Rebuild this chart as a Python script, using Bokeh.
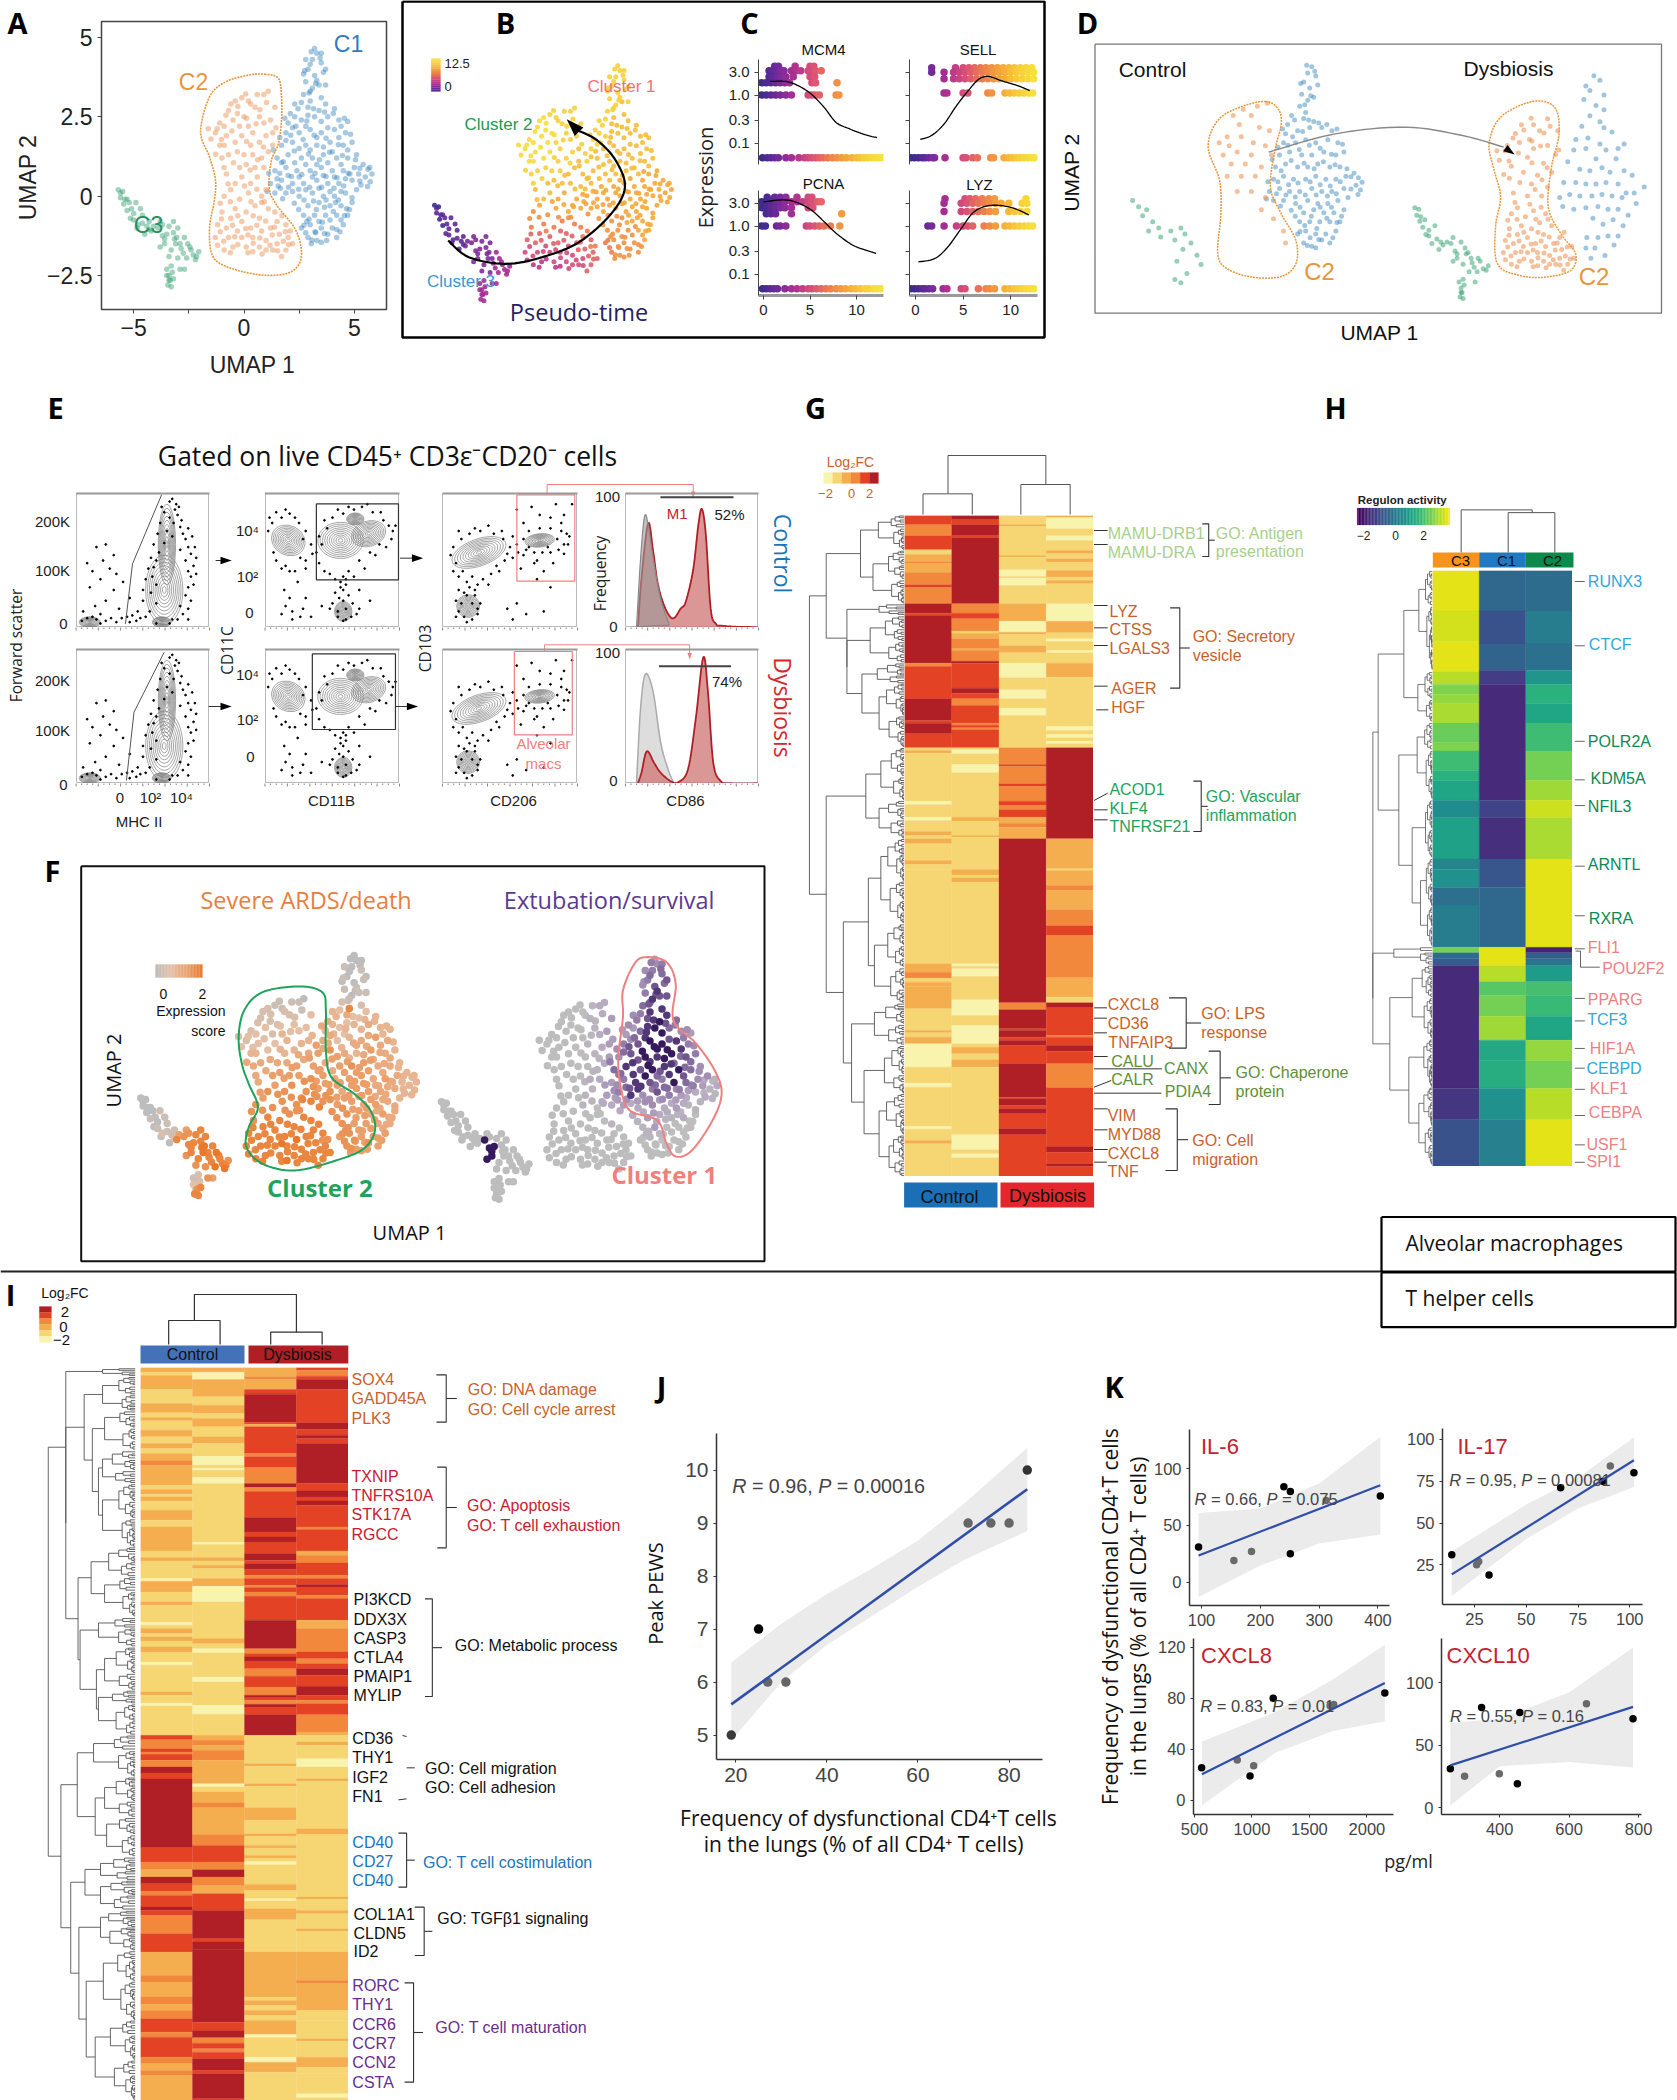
import math
import numpy as np
from bokeh.plotting import figure
from bokeh.models import Range1d, FixedTicker, LinearColorMapper, ColumnDataSource, PrintfTickFormatter
from bokeh.core.properties import value
from bokeh.transform import transform
from bokeh.palettes import Viridis256
from bokeh.embed import file_html
from bokeh.resources import INLINE

LS, OS = "Liberation Sans", "Open Sans"

# ---------- shared UMAP embedding: (x, y, pseudotime, severe score, survival score)
C1_CTRL = [(3.3,4.5,11,0,4),(3.1,4.3,11,0,5),(3.5,4.2,11,1,6),(2.9,4.0,11,0,5),(3.2,3.8,11,0,7),(3.6,3.9,11,1,6),(2.8,3.6,11,1,5),(3.1,3.4,11,0,8),(3.4,3.5,10,1,7),(2.7,3.2,11,2,6),(3.0,3.0,10,8,8),
(2.3,2.9,11,4,4),(2.9,2.8,10,5,7),(3.4,2.7,10,3,9),(2.1,2.6,11,5,4),(2.0,2.3,11,4,3),(2.6,2.4,11,3,6),(3.2,2.5,10,4,9),(3.8,2.5,10,5,6),(4.3,2.4,10,4,4),
(1.9,2.0,11,5,5),(2.5,2.0,10,3,7),(3.0,2.1,10,4,9),(3.5,2.0,10,5,9),(4.1,2.1,10,6,8),(4.6,2.0,10,5,5),(1.7,1.6,11,6,4),(2.2,1.7,10,7,7),(2.8,1.6,10,5,9),(3.3,1.6,10,4,8),(3.9,1.7,10,6,9),(4.5,1.6,10,5,7),(4.9,1.7,10,4,5),
(1.5,1.2,10,6,6),(2.0,1.3,10,5,8),(2.6,1.2,10,6,7),(3.1,1.2,10,7,9),(3.6,1.3,10,6,8),(4.2,1.2,10,5,9),(4.7,1.2,9,5,6),(1.4,.8,10,7,3),(1.9,.9,10,6,5),(2.4,.8,9,5,8),(3.0,.8,9,6,7),(3.5,.9,9,6,5),(4.0,.8,9,5,9),(4.5,.8,9,6,6),(5.0,.9,9,5,4),(5.4,1.0,9,4,4),
(1.2,.4,9,7,3),(1.7,.5,9,6,5),(2.2,.4,9,7,8),(2.7,.4,9,5,4),(3.3,.5,9,6,7),(3.8,.4,9,6,5),(4.3,.4,9,5,3),(4.9,.5,9,5,2),(5.5,.6,9,4,1),(5.8,.7,9,4,2),(1.4,.1,9,8,2),(1.9,.1,9,7,3),(2.5,0,9,6,2),(3.1,.1,9,6,4),(3.6,0,9,5,2),(4.1,0,9,6,3),(4.6,.1,9,5,1),(5.1,.2,9,4,1),(5.6,.3,9,4,1),
(2.9,-.3,8,7,3),(3.4,-.2,8,6,2),(3.9,-.3,9,5,1),(4.4,-.3,9,6,2),(4.9,-.2,9,5,0),(2.7,-.6,8,7,1),(3.2,-.6,8,6,3),(3.7,-.6,8,6,0),(4.2,-.6,9,5,0),(4.7,-.6,9,5,0),(2.6,-1,7,6,0),(3.0,-.9,8,7,1),(3.5,-1,8,6,0),(4.0,-1,8,6,0),(4.5,-.9,9,6,0),(2.9,-1.3,7,7,0),(3.3,-1.4,8,6,0),(3.8,-1.2,8,7,0),(4.2,-1.3,8,6,0),(3.5,-1.45,8,6,0)]
C1_DYS = [(3.2,4.65,11,0,3),(3.5,4.5,11,0,5),(2.8,4.3,11,1,4),(3.0,4.15,11,0,6),(3.7,4.0,11,0,7),(3.3,3.65,11,1,8),(2.7,3.85,11,0,4),(3.7,3.5,11,1,7),(3.0,3.3,11,1,6),(3.5,3.1,10,2,8),(2.6,2.95,11,3,5),
(3.7,2.9,10,3,8),(4.1,2.75,10,4,6),(2.3,2.5,11,4,3),(2.9,2.55,10,3,8),(3.5,2.35,10,4,9),(4.4,2.2,10,4,5),(4.7,2.35,10,4,3),(2.2,2.15,11,5,4),(2.8,2.2,10,3,8),(3.3,1.85,10,5,9),(3.8,2.15,10,5,7),(4.3,1.85,10,5,8),(1.9,1.75,10,5,6),(2.5,1.5,10,6,7),(3.0,1.45,10,4,8),(3.6,1.55,10,5,9),(4.0,1.4,10,5,6),(4.7,1.45,10,5,6),(5.1,1.3,9,4,4),
(1.7,1.05,10,6,5),(2.3,1.05,10,5,8),(2.8,1.0,10,6,9),(3.3,1.0,9,6,6),(3.8,1.05,9,6,8),(4.4,1.0,9,5,7),(4.8,.7,9,5,5),(5.2,.7,9,4,3),(1.5,.55,9,7,4),(2.0,.65,9,6,6),(2.5,.6,9,6,8),(3.1,.6,9,6,5),(3.6,.65,9,6,6),(4.1,.6,9,5,4),(4.6,.55,9,5,3),(5.3,.35,9,4,2),(5.7,.9,9,4,1),(1.65,.25,9,7,3),(2.2,.15,9,7,2),(2.8,.2,9,6,4),(3.4,.25,9,5,3),(3.9,.15,9,6,2),(4.4,.15,9,5,2),(4.9,-.05,9,5,1),
(3.15,-.15,8,6,3),(3.65,-.35,9,6,1),(4.15,-.2,9,5,1),(4.65,-.4,9,5,0),(2.85,-.8,8,7,1),(3.4,-.8,8,6,1),(3.9,-.75,8,6,0),(4.4,-.75,9,5,0),(2.8,-1.15,7,7,0),(3.25,-1.15,8,6,0),(3.75,-1.4,8,6,0),(4.2,-1.05,8,6,0),(3.05,-1.5,8,6,0)]
C1_EXTRA = [(3.05,4.55,11,0,5),(3.45,4.35,11,0,6),(2.75,3.95,11,1,4),(3.25,3.55,11,0,7),(2.95,3.25,11,1,7),(2.45,2.75,11,4,5),(3.15,2.75,10,3,8),(3.65,2.65,10,4,7),(1.85,2.45,11,5,3),(2.35,2.2,11,4,6),(2.85,2.37,10,4,8),(4.05,2.6,10,4,5),(4.55,2.45,10,4,4),(1.62,1.85,11,6,4),(2.12,1.92,10,5,7),(2.68,1.78,10,4,9),(3.18,1.92,10,5,9),(3.72,1.82,10,5,9),(4.28,1.62,10,5,6),(4.83,1.95,10,4,4),(1.33,1.45,10,6,5),(1.78,1.08,10,6,6),(2.28,1.42,10,6,8),(2.92,1.33,10,6,9),(3.42,1.15,10,6,7),(3.88,1.38,10,6,8),(4.46,1.28,9,5,6),(5.05,1.15,9,4,4),(1.12,.72,10,7,3),(1.62,.72,10,6,4),(2.15,.62,9,6,7),(2.62,.68,9,6,8),(3.22,.72,9,6,6),(3.72,.62,9,6,6),(4.22,.58,9,5,5),(4.72,.72,9,5,4),(5.25,.88,9,4,2),(5.62,.85,9,4,1),(1.05,.15,9,8,2),(1.55,.32,9,7,3),(2.02,.28,9,7,4),(2.48,.22,9,6,3),(2.98,.28,9,6,4),(3.52,.28,9,6,4),(4.08,.25,9,5,3),(4.52,.32,9,5,2),(5.25,.48,9,4,1),(5.72,.45,9,4,1),(1.75,-.08,8,8,2),(2.28,-.22,8,7,2),(2.72,-.12,8,7,2),(3.28,-.42,8,6,2),(3.72,-.12,9,6,2),(4.28,-.12,9,5,1),(4.78,-.42,9,5,0),(2.48,-.42,8,7,1),(2.95,-.72,8,7,1),(3.55,-.82,8,6,0),(4.05,-.48,8,6,0),(4.55,-.62,9,5,0),(2.72,-.92,7,7,0),(3.22,-1.12,8,7,0),(3.65,-1.18,8,6,0),(4.35,-1.12,8,6,0),(3.08,-1.38,8,7,0)]
C2_CTRL = [(1.1,3.3,11,0,2),(.6,3.2,11,1,1),(-.1,3.1,11,1,0),(.3,2.9,11,2,0),(-.6,2.9,12,2,0),(-.3,2.6,12,2,0),(.7,2.5,11,3,1),(1.2,2.4,11,3,3),(-.9,2.2,12,3,0),(-.2,2.2,12,2,0),(.4,2.0,11,4,1),(-1.3,2.0,12,2,0),(-.8,1.9,12,3,0),(1.0,1.9,11,4,2),(-1.1,1.6,12,4,0),(-.4,1.7,12,3,0),(.3,1.6,11,4,0),(1.3,1.6,10,5,3),(-.7,1.3,11,5,0),(0,1.3,11,5,0),(.8,1.2,10,6,1),(-.9,.9,11,5,0),(-.2,.9,10,6,0),(.5,.9,10,6,2),(-.4,.4,10,7,0),(.3,.4,9,7,1),(1.0,.2,9,7,2),(.8,-.2,8,7,0),(1.4,-.5,7,8,1),(1.9,-.9,6,8,0),(2.0,-1.3,6,8,0)]
C2_DYS = [(.9,3.2,11,1,2),(.2,3.0,11,1,0),(-.4,3.0,12,2,0),(-.7,2.7,12,2,0),(.5,2.8,11,2,1),(1.4,2.8,11,3,3),(0,2.5,12,2,0),(.9,2.3,11,3,2),(-.5,2.4,12,3,0),(-1.1,2.3,12,2,0),(.2,2.2,11,4,0),(1.3,2.0,10,4,3),(-1.5,1.8,12,3,0),(-.1,1.9,12,3,0),(.7,1.7,11,4,1),(-.9,1.6,12,4,0),(-.3,1.4,11,5,0),(.4,1.3,11,5,0),(1.1,1.4,10,5,2),(-1.0,1.2,11,5,0),(.1,1.0,10,6,0),(.9,.9,10,6,2),(-.8,.7,10,5,0),(-.1,.6,10,6,0),(.6,.6,9,7,1),(-.6,.2,9,6,0),(.2,.1,9,7,1),(.8,.0,9,7,0),(-.9,.0,8,7,0),
(-.2,-.1,8,7,0),(.5,-.3,7,7,0),(1.1,-.4,7,8,0),(-.4,-.4,7,8,0),(-1.0,-.5,7,7,0),(.1,-.5,7,8,0),(.7,-.7,6,8,0),(1.5,-.8,7,8,0),(-.6,-.7,6,8,0),(-.1,-.8,6,8,0),(1.2,-1.0,6,8,0),(2.1,-1.1,7,7,0),(-1.2,-.9,6,8,0),(-.8,-1.0,6,8,0),(-.3,-1.1,5,8,0),(.3,-1.0,6,8,0),(.8,-1.1,5,9,0),(1.6,-1.2,6,8,0),(-1.3,-1.3,5,8,0),(-.7,-1.3,5,8,0),(-.1,-1.3,5,8,0),(.4,-1.3,5,8,0),(1.0,-1.4,5,8,0),(1.5,-1.5,5,8,0),(2.2,-1.5,6,8,0),(-1.2,-1.55,4,8,0),(-.5,-1.6,4,8,0),(.1,-1.6,5,8,0),(.7,-1.6,5,8,0),(1.3,-1.7,5,8,0),(1.9,-1.7,6,8,0),(-.9,-1.7,4,8,0),(.4,-1.75,4,9,0),(1.0,-1.7,5,8,0),(1.7,-1.9,6,8,0)]
C2_EXTRA = [(1.02,2.95,11,1,2),(.08,3.22,11,1,0),(-.28,2.82,12,2,0),(.72,2.72,11,2,1),(-.82,2.55,12,2,0),(-1.22,2.12,12,3,0),(.12,2.45,12,3,0),(.55,2.28,11,3,1),(1.45,2.15,11,4,3),(-.55,2.05,12,3,0),(-1.62,2.12,12,2,0),(-1.02,1.78,12,3,0),(.12,1.72,11,4,0),(.88,1.55,11,5,1),(-1.28,1.32,11,5,0),(-.48,1.05,11,5,0),(.28,.82,10,6,1),(.62,1.15,10,6,1),(-.72,.38,10,6,0),(.02,.32,9,7,0),(.58,.22,9,7,1),(-1.08,-.22,8,7,0),(-.62,-.18,8,7,0),(.32,-.18,8,7,0),(.92,-.18,8,7,0),(-.28,-.62,7,8,0),(.42,-.62,6,8,0),(.98,-.78,6,8,0),(1.72,-.62,7,8,0),(-1.02,-.72,6,8,0),(-.52,-.92,6,8,0),(.08,-1.02,6,8,0),(.58,-.92,6,8,0),(1.38,-.98,6,8,0),(1.88,-1.12,7,7,0),(-1.08,-1.12,5,8,0),(-.42,-1.28,5,8,0),(.18,-1.22,5,9,0),(.72,-1.32,5,8,0),(1.28,-1.22,6,8,0),(1.78,-1.42,6,8,0),(-.92,-1.42,5,8,0),(-.28,-1.52,4,8,0),(.42,-1.48,5,8,0),(1.18,-1.55,5,8,0),(2.02,-1.52,6,8,0),(-.62,-1.78,4,8,0),(.18,-1.78,4,8,0),(.82,-1.82,5,8,0),(1.52,-1.72,5,8,0)]
C3_CTRL = [(-5.6,.1,1,0,0),(-5.3,-.1,1,0,0),(-5.1,-.4,1,0,0),(-4.9,-.2,1,1,0),(-4.6,-.6,1,1,0),(-4.3,-.8,1,1,0),(-4.8,-.9,1,2,0),(-4.2,-1.1,2,8,0),(-3.7,-.9,2,7,0),(-3.5,-1.2,2,8,9),(-3.2,-.8,2,8,0),(-3.0,-1.0,2,8,0),(-3.1,-1.5,2,9,0),(-2.7,-1.3,3,8,0),(-2.4,-1.7,3,8,0),(-2.2,-2.0,3,9,0),(-3.4,-1.9,2,7,0),(-3.5,-2.5,3,3,0),(-2.9,-2.3,3,7,0),(-3.2,-2.6,3,8,0)]
C3_DYS = [(-5.7,.2,0,0,0),(-5.6,-.05,1,0,0),(-5.45,-.25,0,0,0),(-5.3,-.45,0,1,0),(-5.15,-.7,1,0,0),(-5.0,-.55,1,0,0),(-4.85,-1.0,1,1,0),(-4.6,-.85,1,1,0),(-4.5,-1.2,1,0,0),(-4.3,-1.05,1,2,0),(-3.9,-1.0,2,7,9),(-3.7,-1.25,2,8,9),(-3.6,-1.5,2,8,9),(-3.8,-1.6,2,7,9),(-3.2,-1.15,2,8,0),(-3.3,-1.7,2,8,0),(-3.05,-1.3,2,9,0),(-2.85,-1.65,2,8,0),(-2.55,-1.5,3,9,0),(-2.6,-1.95,3,9,0),(-2.3,-1.85,3,8,0),(-2.05,-1.75,3,7,0),(-3.0,-1.95,2,7,0),(-3.5,-2.3,3,1,0),(-3.4,-2.5,3,1,0),(-3.35,-2.65,3,7,0),(-3.45,-2.8,3,8,0),(-3.25,-2.4,3,2,0),(-2.7,-2.3,3,6,0)]
C3_EXTRA = [(-5.5,.15,0,0,0),(-5.4,-.1,1,0,0),(-5.2,-.2,1,0,0),(-5.0,-.75,1,1,0),(-4.7,-.4,1,1,0),(-4.4,-.95,1,1,0),(-4.1,-.95,2,6,0),(-3.8,-.8,2,6,0),(-3.4,-.95,2,8,0),(-3.6,-1.35,2,8,9),(-3.15,-1.35,2,9,0),(-2.9,-1.5,2,8,0),(-2.75,-1.8,3,8,0),(-2.45,-1.6,3,8,0),(-2.15,-1.9,3,8,0),(-3.3,-2.2,3,2,0),(-3.4,-2.65,3,2,0),(-3.3,-2.85,3,8,0)]

# ---------- heat-map columns, each a list of (end row, colour level)
LOG2FC_LEVELS = [-2.0,-1.2,-0.4,0.4,1.2,2.0]
LOG2FC_COLORS = ["#F8F3AD","#F6D573","#F4AE4F","#F2883C","#E34224","#B01E26"]
G_ROW0, G_ROWN = 375, 2358
G_COL1 = [(403,4),(436,3),(478,4),(492,1),(514,2),(519,3),(546,2),(583,3),(591,4),(640,3),(668,5),(675,4),(818,5),(828,3),(925,4),(990,5),(998,4),(1030,5),(1072,4),(1080,1),(1088,2),(1232,1),(1242,0),(1280,1),(1290,0),(1323,1),(1335,2),(1345,1),(1360,2),(1410,1),(1422,2),(1437,1),(1720,1),(1745,2),(1763,3),(1775,1),(1788,2),(1855,2),(1920,1),(1927,2),(1940,1),(1960,2),(2030,0),(2078,1),(2090,0),(2208,1),(2216,0),(2250,1),(2260,2),(2358,1)]
G_COL2 = [(388,5),(403,4),(436,5),(442,4),(640,5),(668,3),(685,4),(722,3),(728,1),(745,2),(775,3),(780,2),(812,3),(818,5),(893,4),(908,5),(925,4),(945,3),(998,4),(1004,3),(1012,4),(1018,3),(1072,4),(1078,1),(1090,0),(1122,1),(1147,0),(1280,1),(1292,2),(1335,1),(1340,2),(1437,1),(1454,2),(1462,1),(1475,2),(1720,1),(1727,0),(1735,1),(1758,0),(1828,1),(1875,0),(1905,1),(1960,0),(1970,1),(1990,2),(2008,1),(2030,2),(2233,1),(2278,0),(2290,1),(2302,0),(2358,1)]
G_COL3 = [(402,1),(408,2),(495,1),(500,2),(538,1),(558,0),(563,1),(585,0),(640,1),(692,2),(725,0),(732,2),(766,1),(787,2),(818,1),(862,0),(898,1),(925,0),(953,1),(975,0),(1072,1),(1122,3),(1128,4),(1180,3),(1188,4),(1232,3),(1245,4),(1258,3),(1280,4),(1298,2),(1310,3),(1345,2),(1837,5),(1858,3),(1915,5),(1920,4),(1940,5),(1950,4),(1965,5),(2020,4),(2120,5),(2125,4),(2145,5),(2155,4),(2170,5),(2215,4),(2233,5),(2358,4)]
G_COL4 = [(381,2),(415,0),(436,1),(450,0),(480,1),(490,2),(505,1),(515,2),(540,1),(560,2),(570,1),(580,2),(640,1),(692,0),(727,2),(745,1),(753,0),(780,1),(787,0),(818,1),(860,2),(1008,1),(1020,0),(1032,1),(1042,0),(1052,1),(1060,0),(1072,1),(1345,5),(1435,2),(1440,1),(1485,2),(1500,3),(1558,2),(1606,3),(1635,4),(1762,3),(1820,2),(1837,1),(1852,5),(1935,4),(1940,3),(1965,4),(1982,5),(2020,4),(2092,3),(2268,4),(2285,5),(2320,4),(2328,5),(2358,4)]
I_ROW0, I_ROWN = 292, 2490
I_COL1 = [(306,2),(316,1),(358,2),(400,1),(428,2),(442,1),(452,2),(480,1),(500,2),(520,1),(535,2),(550,1),(572,2),(585,3),(645,2),(658,1),(672,2),(680,1),(692,2),(720,1),(750,2),(770,1),(842,2),(862,1),(872,2),(925,1),(933,0),(965,2),(995,1),(1005,2),(1055,1),(1065,0),(1075,1),(1090,2),(1100,1),(1112,2),(1130,1),(1145,2),(1175,1),(1185,0),(1265,1),(1275,2),(1298,1),(1307,0),(1395,1),(1408,4),(1435,3),(1445,4),(1452,3),(1470,4),(1490,3),(1508,5),(1526,4),(1732,5),(1775,4),(1798,3),(1820,2),(1840,5),(1862,4),(1875,3),(1910,4),(1920,5),(1935,4),(1990,3),(2045,4),(2115,2),(2135,3),(2180,2),(2202,3),(2220,2),(2245,3),(2285,4),(2300,3),(2360,4),(2380,3),(2400,2),(2415,3),(2490,2)]
I_COL2 = [(306,2),(328,0),(380,2),(405,1),(430,2),(445,1),(470,2),(500,1),(520,2),(558,1),(585,0),(593,1),(600,0),(622,1),(640,0),(815,1),(823,0),(862,1),(872,2),(885,1),(895,2),(925,1),(948,2),(995,0),(1105,1),(1120,2),(1135,1),(1148,0),(1220,1),(1235,0),(1305,1),(1332,0),(1395,1),(1410,2),(1425,3),(1440,2),(1470,3),(1540,2),(1550,0),(1565,1),(1598,2),(1612,3),(1692,2),(1725,3),(1775,4),(1798,3),(1820,5),(1846,3),(1870,2),(1920,4),(2005,5),(2015,4),(2038,5),(2255,5),(2280,4),(2302,5),(2318,3),(2335,4),(2345,3),(2365,4),(2400,5),(2410,4),(2485,5),(2490,4)]
I_COL3 = [(320,2),(328,3),(358,2),(372,4),(456,5),(462,4),(470,2),(550,4),(560,3),(592,4),(640,3),(652,5),(664,3),(742,4),(785,5),(800,4),(815,5),(850,4),(870,5),(880,4),(898,5),(915,4),(925,3),(945,4),(952,3),(965,4),(978,3),(1050,4),(1135,5),(1150,3),(1160,4),(1172,5),(1195,4),(1218,3),(1250,4),(1275,3),(1282,5),(1290,4),(1302,3),(1310,5),(1333,4),(1395,5),(1480,1),(1488,2),(1540,1),(1548,2),(1612,1),(1650,2),(1690,1),(1698,2),(1725,1),(1733,2),(1755,1),(1763,2),(1773,1),(1783,0),(1842,1),(1860,2),(1885,1),(1892,0),(1915,1),(1948,2),(2045,1),(2180,2),(2190,1),(2205,2),(2220,1),(2235,2),(2250,1),(2292,2),(2302,0),(2360,1),(2375,0),(2405,2),(2490,1)]
I_COL4 = [(300,4),(318,3),(328,4),(358,5),(458,4),(478,5),(495,4),(505,5),(520,4),(640,5),(662,4),(680,5),(692,4),(705,5),(770,4),(778,3),(842,4),(855,2),(878,3),(915,4),(925,3),(943,4),(950,5),(975,4),(985,3),(1050,4),(1075,2),(1145,3),(1165,4),(1180,3),(1195,4),(1215,5),(1248,4),(1275,5),(1290,4),(1300,3),(1333,4),(1385,3),(1395,2),(1415,1),(1425,2),(1465,1),(1490,0),(1525,1),(1532,2),(1675,1),(1692,2),(1880,1),(1886,2),(1920,1),(1930,2),(1975,1),(1982,2),(2045,1),(2130,2),(2138,3),(2220,2),(2250,1),(2305,1),(2312,2),(2360,1),(2390,2),(2408,1),(2470,1),(2482,0),(2490,1)]
H_ROW0, H_ROWN = 195, 1492
H_C3 = [(283,3.0),(350,2.85),(415,3.0),(443,2.6),(465,2.1),(485,2.3),(527,2.5),(570,1.9),(588,2.1),(630,1.4),(652,1.1),(695,.8),(733,.2),(823,.7),(845,.0),(885,.3),(923,-.5),(1015,-.2),(1027,2.0),(1040,-.6),(1055,-1.0),(1322,-2.0),(1390,-1.75),(1492,-1.2)]
H_C1 = [(283,-.7),(355,-1.2),(412,-.8),(443,-1.6),(695,-2.0),(733,-1.5),(823,-1.9),(885,-1.1),(1015,-.7),(1055,3.0),(1090,2.6),(1120,1.7),(1165,2.0),(1217,2.4),(1262,.9),(1322,1.0),(1390,.3),(1492,-.1)]
H_C2 = [(283,-.6),(355,-.2),(412,-.5),(443,.4),(485,1.1),(527,.8),(588,1.4),(652,2.0),(695,2.4),(733,2.8),(823,2.5),(1015,3.0),(1027,-2.1),(1040,-.9),(1055,-.4),(1090,.6),(1120,1.5),(1165,1.3),(1217,.8),(1262,2.3),(1322,2.0),(1390,2.6),(1492,3.0)]

# ---------- C: expression strips, (expression level, pseudotime values)
MCM4_ROWS = [(4.0,[1.2,1.6,3.4,5.0,5.4]),(3.2,[.6,1,1.4,1.8,2.2,3,3.5,4,4.8,5.2,5.6,6.2]),(2.4,[.6,1,1.5,2,2.4,3.2,5,5.5]),(1.8,[-.2,.3,.8,1.3,1.8,2.3,2.8,5.2,5.6,7.9]),(1.0,[-.2,.3,.8,1.3,1.8,2.4,3,4.8,5.2,5.6,6,7.8,8.1]),(.05,[-.1,.4,.8,1.2,1.6,2.4,3,3.8,4.4,4.8,5.2,5.6,6,6.4,6.9,7.4,7.9,8.4,8.9,9.5,10,10.4,10.8,11.2,11.6,12,12.4,12.8])]
SELL_ROWS = [(3.7,[1.7,4.2,5,5.6,6.2,6.8,7.4,8,8.6,9.2,9.8,10.4,11,11.6,12.2]),(3.0,[1.7,3,4,4.6,5.2,5.8,6.4,7,7.6,8.2,8.8,9.4,10,10.6,11.2,11.8,12.4]),(2.2,[3,4,4.6,5.2,5.8,6.4,7,7.6,8.2,8.8,9.4,10,10.6,11.2,11.8,12.4]),(1.1,[3,3.3,5,5.5,7.6,8,9.4,9.9,10.4,10.9,11.4,11.9,12.3]),(.05,[-.5,-.1,.3,.7,1,1.4,1.8,2,3.1,5,5.3,6,6.5,7.9,8.2,9.3,9.8,10.2,10.6,11,11.4,11.8,12.2,12.5])]
PCNA_ROWS = [(4.0,[.4,1.2,1.8,2.4,3.6,4.8,5.2]),(3.2,[-.2,.3,.8,1.3,1.8,2.3,3,3.6,4.2,4.8,5.2,5.8,6.2]),(2.4,[-.2,.3,.8,1.3,1.8,2.3,3,4.8,5.3]),(1.8,[.3,.8,1.3,3,8.4]),(1.0,[-.2,.2,1.4,1.8,2.4,4.6,5,5.5,6,6.5,7.2,8.2]),(.05,[-.1,.3,.7,1.1,1.5,2.3,3,3.6,4.2,4.8,5.2,5.7,6.2,6.7,7.2,7.8,8.3,8.8,9.4,9.9,10.4,10.9,11.3,11.8,12.2,12.6])]
LYZ_ROWS = [(3.7,[3.1,5.2,5.7,6.3,7,7.7,8.3,11.6]),(3.0,[3,4.8,5.4,6,6.6,7.2,7.8,8.4,9,9.8,11.2,11.7]),(2.0,[3,4.8,5.4,6,6.6,7.2,7.8,8.4,9.8,10.4,11,11.7]),(1.0,[1.3,1.7,3,4.3,5,5.5,6,7.2,7.8,8.4,9.4,9.9,10.4,10.9,11.4,11.9,12.3]),(.05,[-.5,-.1,.3,.7,1,1.4,1.8,2.9,3.3,4.8,5.2,6.6,7.4,7.8,8.3,9.4,9.9,10.4,10.8,11.2,11.6,12,12.4])]
MCM4_CURVE = [(.7,1.92),(2.4,1.92),(3.7,1.58),(5.1,1.06),(6.5,.56),(7.8,.27),(9.2,.2),(10.9,.15),(12.2,.13)]
SELL_CURVE = [(.5,.12),(1.7,.145),(3,.25),(4.3,.6),(5.7,1.35),(6.7,2.18),(7.7,2.44),(9,2),(10.7,1.58),(12,1.24)]
PCNA_CURVE = [(0,3.2),(2,3.5),(3.4,3.2),(5.1,2.18),(6.5,1.24),(7.8,.71),(9.5,.41),(10.9,.32),(12.1,.27)]
LYZ_CURVE = [(.3,.18),(2,.21),(3.3,.35),(4.7,.83),(6,1.86),(7.3,2.56),(8.7,2.7),(10.3,2.36),(11.9,1.71)]

# ---------- E: flow cytometry (percent of axis)
FSC_DOTS = [(72,96),(75,92),(74,88),(76,84),(70,82),(73,78),(78,75),(68,72),(80,70),(72,68),(82,66),(66,63),(84,60),(78,58),(62,56),(86,55),(60,50),(82,50),(58,45),(88,46),(84,42),(57,38),(86,38),(60,32),(84,30),(56,26),(82,24),(60,18),(78,16),(55,12),(80,10),(52,8),(72,6),(48,7),(45,5),(15,60),(20,50),(8,48),(12,42),(25,44),(30,40),(18,36),(35,34),(10,30),(28,28),(22,20),(14,16),(32,14),(18,10),(12,8),(26,7),(38,8),(5,12),(22,62),(28,54),(40,22),
(64,90),(70,94),(77,90),(66,86),(79,80),(63,78),(84,74),(61,70),(87,68),(58,62),(89,60),(56,52),(90,52),(54,44),(90,40),(52,36),(88,32),(50,28),(86,20),(50,20),(84,14),(46,12),(70,3),(60,3),(40,4),(30,4),(22,5),(15,6),(8,7),(4,5),(18,3),(34,7),(42,9),(76,6),(84,6)]
CD11_DOTS = [(5,78),(12,82),(18,85),(25,78),(30,72),(8,50),(15,46),(22,42),(30,50),(35,55),(42,62),(46,74),(50,82),(58,85),(66,88),(72,90),(80,86),(88,80),(92,76),(95,72),(85,62),(78,56),(70,50),(62,42),(58,38),(56,34),(58,28),(14,28),(18,22),(15,16),(20,12),(26,8),(30,22),(24,34),(50,18),(55,22),(62,24),(65,18),(68,10),(60,6),(54,8),(48,14),(42,16),(70,28),(78,20),(58,5),
(2,72),(3,82),(8,86),(15,88),(22,82),(28,66),(34,62),(38,56),(30,44),(26,52),(18,42),(12,44),(6,56),(40,48),(44,42),(48,40),(52,36),(60,36),(66,38),(74,44),(82,54),(90,60),(94,66),(97,76),(86,86),(76,92),(62,90),(54,88),(44,80),(40,68),(58,20),(60,14),(54,12),(64,8),(70,14),(56,30),(52,26),(60,32),(20,6),(12,10),(28,14),(34,8)]
CD103_DOTS = [(55,88),(60,78),(80,82),(88,78),(92,70),(96,92),(78,60),(70,50),(75,42),(82,48),(90,55),(93,62),(85,66),(60,66),(55,62),(50,60),(48,55),(40,46),(36,40),(30,36),(22,38),(15,42),(10,48),(8,60),(14,66),(20,70),(28,72),(38,70),(45,66),(20,30),(16,26),(24,24),(14,18),(12,12),(16,8),(22,6),(26,10),(28,18),(48,14),(55,18),(62,10),(75,12),(52,6),(68,48),(62,58),
(6,54),(8,42),(12,38),(18,34),(26,32),(34,32),(42,42),(46,50),(52,52),(56,56),(60,54),(64,60),(68,56),(74,56),(80,56),(86,58),(90,62),(94,68),(88,72),(80,74),(72,74),(64,72),(52,68),(44,72),(34,76),(24,74),(12,72),(22,18),(10,20),(10,8),(18,4),(26,14),(24,28),(18,24),(12,28),(72,84),(66,90),(84,92),(90,84),(58,44),(70,36),(80,30)]
FSC_BLOBS = [(66,28,28,52,0),(68,62,13,60,0),(10,4,16,8,0),(64,4,14,8,0)]
CD11_BLOBS = [(17,65,26,22,-.5),(56,65,34,27,0),(77,70,26,19,.3),(67,81,13,9,0),(58,12,13,15,0)]
CD103_BLOBS = [(27,56,42,20,.35),(72,65,22,10,.1),(19,16,17,17,0)]
HIST_CTRL_GREY = [(8.3,.5),(11.3,53),(14.3,86),(17,80),(20.8,54),(26.4,22.5),(33,1.8)]
HIST_CTRL_RED = [(9.4,.5),(12,38),(17,81),(20.8,59),(24.5,33),(30,14.7),(35.8,7),(41.5,14.7),(45.3,20),(50.9,45),(54.7,79),(57.4,92),(60.4,72),(64,15),(67.9,3),(73.6,1.3),(100,0)]
HIST_DYS_GREY = [(8.3,.5),(11.3,58),(15,85),(20.8,71),(26.4,32),(32,11),(36,1)]
HIST_DYS_RED = [(9.4,.5),(12,8.4),(16,25),(21.5,16),(26.4,8.4),(34,1.8),(39.6,1),(47,11),(52.8,50),(58.5,98),(62,71),(66,16),(71.7,1.8),(79,0),(100,0)]

# ---------- J, K
J_X = [19,25,27,31,71,76,80,84]
J_Y = [5,7,6,6,9,9,9,10]
J_SHADE = ["#3A3A3A","#000000","#666666","#666666","#666666","#666666","#666666","#333333"]
J_FIT_X, J_FIT_Y = [19,84],[5.58,9.64]
J_CI_X = [19,30,40,50,60,70,84]
J_CI_HI = [6.37,7.1,7.66,8.15,8.67,9.36,10.42]
J_CI_LO = [4.9,6.0,6.7,7.25,7.8,8.3,8.85]
IL6 = dict(x=[95,155,185,240,251,251,312,404],y=[31,19,27,84,80,25,72,76],s=[0,1,1,0,0,0,1,0],fx=[95,404],fy=[23.4,85.4],cx=[95,200,300,404],hi=[61,65,87,128],lo=[-13,14.6,34,42])
IL17 = dict(x=[14,26,27,32,66.6,87,90.6,102],y=[31,25,27,19,71,75,84,80],s=[0,1,1,0,0,0,1,0],fx=[14,102],fy=[19.3,87.5],cx=[14,50,75,102],hi=[33,61,77,101],lo=[6.4,40.5,58.6,71.5])
CXCL8 = dict(x=[562,872,983,1015,1185,1680,1711,2156],y=[25.5,31.6,19,27,80,74,75,84],s=[0,1,0,1,0,1,1,0],fx=[565,2156],fy=[20.4,92],cx=[565,1200,1700,2156],hi=[46,69,94.5,122],lo=[-4,37,54,62])
CXCL10 = dict(x=[258,299,348,399,451,458,650,784],y=[31,25,80,27,19,76,83,71],s=[0,1,0,1,0,0,1,0],fx=[258,784],fy=[33.7,80.5],cx=[258,400,600,784],hi=[67.7,71,92,128],lo=[1.7,33,36.5,32])

# ---------- helpers
figs = []
def fig(x0,y0,x1,y1,xr,yr,axes=False,L=0,R=0,T=0,B=0,yscale="linear"):
    w=int(round(x1-x0)); h=int(round(y1-y0))
    p = figure(width=w+L+R,height=h+T+B,x_range=Range1d(*xr),y_range=Range1d(*yr),
               min_border_left=L,min_border_right=R,min_border_top=T,min_border_bottom=B,output_backend="svg",toolbar_location=None,
               x_axis_location="below" if axes else None,y_axis_location="left" if axes else None,y_axis_type=yscale,
               background_fill_color=None,border_fill_color=None,outline_line_color=None)
    p.grid.visible = False
    p.styles = {"position":"absolute","left":f"{x0-L:.1f}px","top":f"{y0-T:.1f}px"}
    figs.append(p)
    return p

def rng(p0,p1,v0,pv0,v1,pv1):
    s = (v1-v0)/(pv1-pv0)
    return (v0+(p0-pv0)*s, v0+(p1-pv0)*s)

def lerp(stops,n=256):
    rgb = np.array([[int(c[i:i+2],16) for i in (1,3,5)] for c in stops],float)
    t = np.linspace(0,len(stops)-1,n); out=[]
    for v in t:
        i=min(int(v),len(stops)-2); f=v-i; c=rgb[i]*(1-f)+rgb[i+1]*f
        out.append("#%02x%02x%02x"%tuple(int(round(k)) for k in c))
    return out

def smooth(pts,closed=False,n=8):
    P=list(pts); m=len(P); out=[]
    rangeN = m if closed else m-1
    for i in range(rangeN):
        if closed:
            p0,p1,p2,p3=P[(i-1)%m],P[i],P[(i+1)%m],P[(i+2)%m]
        else:
            p0,p1,p2,p3=P[max(i-1,0)],P[i],P[i+1],P[min(i+2,m-1)]
        for k in range(n):
            t=k/n
            out.append(tuple(.5*(2*p1[j]+(p2[j]-p0[j])*t+(2*p0[j]-5*p1[j]+4*p2[j]-p3[j])*t*t+(3*p1[j]-p0[j]-3*p2[j]+p3[j])*t**3) for j in (0,1)))
    out.append(P[0] if closed else P[-1])
    return [o[0] for o in out],[o[1] for o in out]

C1_ALL = C1_CTRL+C1_DYS+C1_EXTRA
C2_ALL = C2_CTRL+C2_DYS+C2_EXTRA
C3_ALL = C3_CTRL+C3_DYS+C3_EXTRA
ALL = C1_ALL+C2_ALL+C3_ALL
PT_STOPS = ["#3F2A8F","#7A2A9B","#B5328F","#DA5276","#EE7F4C","#F5A63A","#F8CB3A","#F6E23C"]
PT_PAL = lerp(PT_STOPS)
pt_map = LinearColorMapper(palette=PT_PAL,low=0,high=12.5)
C1C,C2C,C3C = "#2E7FB8","#EE965A","#2F9E6E"

# ---------- A
A_OUT = [(.93,3.84),(1.56,3.71),(1.7,3.13),(1.7,2.39),(1.56,1.65),(1.24,1.12),(1.14,.27),(1.45,-.25),(2.28,-.99),(2.59,-1.63),(2.49,-2.15),(1.87,-2.45),(.62,-2.47),(-.83,-2.21),(-1.45,-1.84),(-1.56,-.99),(-1.35,-.15),(-1.29,.49),(-1.56,1.23),(-1.97,2.02),(-1.56,3.13),(-.83,3.6),(.21,3.81)]
pA = fig(100.6,20.7,386,308.3,(-6.46,6.46),(-3.57,5.5),axes=True,L=70,B=40,R=2,T=2)
pA.outline_line_color="#444444"; pA.outline_line_width=1.5
for pts,c,a in ((C1_ALL,C1C,.42),(C2_ALL,C2C,.5),(C3_ALL,C3C,.45)):
    pA.scatter([q[0] for q in pts],[q[1] for q in pts],size=5.5,fill_color=c,fill_alpha=a,line_color=None)
ox,oy = smooth(A_OUT,True)
pA.line(ox,oy,line_color="#E8963C",line_width=1.6,line_dash="2 1")
pA.xaxis.ticker=FixedTicker(ticks=[-5,-2.5,0,2.5,5]); pA.xaxis.major_label_overrides={-5:"−5",-2.5:"",0:"0",2.5:"",5:"5"}
pA.yaxis.ticker=FixedTicker(ticks=[-2.5,0,2.5,5]); pA.yaxis.major_label_overrides={-2.5:"−2.5",0:"0",2.5:"2.5",5:"5"}
for ax in (pA.xaxis,pA.yaxis):
    ax.major_label_text_font=LS; ax.major_label_text_font_size="23px"; ax.major_label_text_color="#222222"
    ax.axis_line_color="#444444"; ax.major_tick_line_color="#444444"; ax.minor_tick_line_color=None; ax.major_tick_in=0; ax.major_tick_out=4

# ---------- B
def box_map(x0,y0,x1,y1,ax,bx,ay,by,**k):
    return fig(x0,y0,x1,y1,((x0-ax)/bx,(x1-ax)/bx),((y1-ay)/by,(y0-ay)/by),**k)
pB = box_map(405,30,700,335,551.4,20.6,211,-31.33)
src = ColumnDataSource(dict(x=[q[0] for q in ALL],y=[q[1] for q in ALL],t=[q[2] for q in ALL]))
pB.scatter("x","y",source=src,size=5,fill_color=transform("t",pt_map),line_color=None,fill_alpha=.9)

# ---------- C
def strip(x0,y0,x1,y1,tick0,tick5,rows,curve,labels,xaxis):
    xr = rng(x0,x1,0,tick0,5,tick5)
    p = fig(x0,y0,x1,y1,xr,(.036,5.5),axes=True,L=45,B=40,T=2,R=2,yscale="log")
    for lev,xs in rows:
        s=ColumnDataSource(dict(x=xs,y=[lev]*len(xs),t=xs))
        p.scatter("x","y",source=s,size=7.5,fill_color=transform("t",pt_map),line_color=None)
    cx,cy=smooth([(a,math.log10(b)) for a,b in curve])
    p.line(cx,[10**k for k in cy],line_color="black",line_width=1.3)
    p.yaxis.ticker=FixedTicker(ticks=[.1,.3,1,3]); p.yaxis.formatter=PrintfTickFormatter(format="%.1f")
    p.yaxis.major_label_text_font=LS; p.yaxis.major_label_text_font_size="15px"; p.yaxis.major_label_text_color="#222222" if labels else None
    p.yaxis.major_tick_in=0; p.yaxis.major_tick_out=4; p.yaxis.minor_tick_line_color=None; p.yaxis.axis_line_color="#444444"; p.yaxis.major_tick_line_color="#444444"
    p.xaxis.ticker=FixedTicker(ticks=[0,5,10]); p.xaxis.major_tick_in=0; p.xaxis.minor_tick_line_color=None
    p.xaxis.major_label_text_font=LS; p.xaxis.major_label_text_font_size="15px"; p.xaxis.major_label_text_color="#222222" if xaxis else None
    p.xaxis.axis_line_color="#999999" if xaxis else None; p.xaxis.axis_line_width=3; p.xaxis.major_tick_line_color="#444444" if xaxis else None; p.xaxis.major_tick_out=4
    return p
strip(757.6,59,883,164,762.6,809.3,MCM4_ROWS,MCM4_CURVE,True,False)
strip(909,59,1037,164,915,962.6,SELL_ROWS,SELL_CURVE,False,False)
strip(757.6,190,883,295,762.6,809.3,PCNA_ROWS,PCNA_CURVE,True,True)
strip(909,190,1037,295,915,962.6,LYZ_ROWS,LYZ_CURVE,False,True)

# ---------- D
for parts,ax,ay,by in (((C1_CTRL+C1_EXTRA,C2_CTRL,C3_CTRL),1244.8,203.1,-30.4),((C1_DYS,C2_DYS+C2_EXTRA,C3_DYS+C3_EXTRA),1529,213.3,-29.7)):
    p = box_map(1100,50,1658,310,ax,20.13,ay,by)
    for q,c,a in zip(parts,(C1C,C2C,C3C),(.45,.6,.5)):
        p.scatter([k[0] for k in q],[k[1] for k in q],size=5,fill_color=c,fill_alpha=a,line_color=None)

# ---------- E contour panels
def facs(x0,y0,x1,y1,blobs,dots):
    p = fig(x0,y0,x1,y1,(0,100),(0,100))
    p.outline_line_color="#BBBBBB"
    for cx,cy,w,h,a in blobs:
        for k in (1,.9,.8,.7,.6,.5,.4,.3,.2,.1):
            p.ellipse([cx],[cy],width=w*k,height=h*k,angle=a,fill_color=None,line_color="#7F7F7F",line_width=.7)
    p.scatter([d[0] for d in dots],[d[1] for d in dots],size=1.8,color="black")
    return p
for (y0,y1) in ((493,627),(649,783)):
    facs(75.6,y0,209,y1,FSC_BLOBS,FSC_DOTS)
    facs(264.5,y0,399,y1,CD11_BLOBS,CD11_DOTS)
    facs(442,y0,577,y1,CD103_BLOBS,CD103_DOTS)

def hist(y0,y1,grey,red,grey_top):
    p = fig(625,y0,758,y1,(0,100),(0,104))
    p.outline_line_color="#BBBBBB"
    gx,gy=smooth(grey); rx,ry=smooth(red)
    if not grey_top:
        p.patch(gx,gy,fill_color="#DDDDDD",line_color="#AAAAAA",line_width=1.5)
    p.patch(rx,ry,fill_color="#D27C7C",fill_alpha=.8,line_color=None)
    p.line(rx,ry,line_color="#B01E26",line_width=1.8)
    if grey_top:
        p.patch(gx,gy,fill_color="#9A9A9A",fill_alpha=.6,line_color="#888888",line_width=1.2)
hist(493,627,HIST_CTRL_GREY,HIST_CTRL_RED,True)
hist(649,783,HIST_DYS_GREY,HIST_DYS_RED,False)

# ---------- F
grey_orange = lerp(["#BDBDBD","#E5BFA5","#EBA06C","#E8792B"])
grey_purple = lerp(["#BDBDBD","#B5A8C0","#9C86AE","#7A5F96","#351A5E"])
m_l = LinearColorMapper(palette=grey_orange,low=0,high=9)
m_r = LinearColorMapper(palette=grey_purple,low=0,high=9)
pF1 = box_map(85,930,420,1215,276.9,23.97,1103.9,-32)
q=sorted(ALL,key=lambda k:k[3])
s=ColumnDataSource(dict(x=[k[0] for k in q],y=[k[1] for k in q],l=[k[3] for k in q]))
pF1.scatter("x","y",source=s,size=7.5,line_color=None,fill_color=transform("l",m_l))
pF2 = box_map(430,930,760,1215,577.6,23.97,1107.6,-32)
q=sorted(ALL,key=lambda k:k[4])
s=ColumnDataSource(dict(x=[k[0] for k in q],y=[k[1] for k in q],r=[k[4] for k in q]))
pF2.scatter("x","y",source=s,size=7.5,line_color=None,fill_color=transform("r",m_r))

# ---------- heatmaps
fc_map = LinearColorMapper(palette=LOG2FC_COLORS,low=-2.4,high=2.4)
def heat(x0,y0,x1,y1,cols,r0,rn,mapper,levels=True):
    p = fig(x0,y0,x1,y1,(0,len(cols)),(rn,r0))
    Lf,Rr,Tt,Bb,V=[],[],[],[],[]
    for j,col in enumerate(cols):
        prev=r0
        for e,v in col:
            if e<=prev: continue
            Lf.append(j);Rr.append(j+1);Tt.append(prev);Bb.append(e);V.append(LOG2FC_LEVELS[v] if levels else v)
            prev=e
    s=ColumnDataSource(dict(left=Lf,right=Rr,top=Tt,bottom=Bb,v=V))
    p.quad(left="left",right="right",top="top",bottom="bottom",source=s,fill_color=transform("v",mapper),line_color=transform("v",mapper),line_width=.3)
    return p
heat(904.3,515,1093.2,1176,[G_COL1,G_COL2,G_COL3,G_COL4],G_ROW0,G_ROWN,fc_map)
heat(140,1367.3,347.8,2100,[I_COL1,I_COL2,I_COL3,I_COL4],I_ROW0,I_ROWN,fc_map)
v_map = LinearColorMapper(palette=Viridis256,low=-2.7,high=3.25)
heat(1432.3,569.5,1572.3,1165,[H_C3,H_C1,H_C2],H_ROW0,H_ROWN,v_map,levels=False)

# ---------- J, K
def style_axes(p,size,color="#444444",w=1.5):
    for ax in (p.xaxis,p.yaxis):
        ax.major_label_text_font=LS; ax.major_label_text_font_size=f"{size}px"; ax.major_label_text_color=color
        ax.axis_line_color="#333333"; ax.axis_line_width=w; ax.major_tick_line_color="#333333"; ax.minor_tick_line_color=None; ax.major_tick_in=0; ax.major_tick_out=3
pJ = fig(716,1432.7,1041.7,1758.7,rng(716,1041.7,20,735.3,80,1008.3),rng(1758.7,1432.7,5,1734.3,10,1469.3),axes=True,L=60,B=40,R=3)
pJ.varea(J_CI_X,J_CI_LO,J_CI_HI,fill_color="#EBEBEB")
pJ.scatter(J_X,J_Y,size=9.5,color=J_SHADE,line_color=None)
pJ.line(J_FIT_X,J_FIT_Y,line_color="#2F4EA8",line_width=2.6)
pJ.xaxis.ticker=FixedTicker(ticks=[20,40,60,80]); pJ.yaxis.ticker=FixedTicker(ticks=[5,6,7,8,9,10])
style_axes(pJ,21)

def kplot(box,xr,yr,d,xt,yt):
    p=fig(*box,xr,yr,axes=True,L=55,B=36,R=12)
    p.varea(d["cx"],d["lo"],d["hi"],fill_color="#EBEBEB")
    p.scatter(d["x"],d["y"],size=7.5,color=["#6A6A6A" if k else "#000000" for k in d["s"]],line_color=None)
    p.line(d["fx"],d["fy"],line_color="#2F4EA8",line_width=2.2)
    p.xaxis.ticker=FixedTicker(ticks=xt); p.yaxis.ticker=FixedTicker(ticks=yt)
    style_axes(p,16.5)
kplot((1189,1428.5,1388.5,1604),rng(1189,1388.5,100,1201,400,1377),rng(1604,1428.5,0,1580.7,100,1467.6),IL6,[100,200,300,400],[0,50,100])
kplot((1442,1427.7,1641.7,1604),rng(1442,1641.7,25,1474,100,1629),rng(1604,1427.7,25,1564.3,100,1438.5),IL17,[25,50,75,100],[25,50,75,100])
kplot((1193,1638,1393,1814),rng(1193,1393,500,1194,2000,1366.4),rng(1814,1638,0,1799.7,120,1646.7),CXCL8,[500,1000,1500,2000],[0,40,80,120])
kplot((1441,1638,1640.5,1814),rng(1441,1640.5,400,1499,800,1637.6),rng(1814,1638,0,1807,100,1682),CXCL10,[400,600,800],[0,50,100])

# ---------- overlay canvas with labels, dendrograms and annotations
C = fig(0,0,1677,2100,(0,1677),(2100,0))
def TX(x,y,s,size=14,color="#000000",align="left",font=LS,style="normal",angle=0):
    C.text([x],[y],text=[s],text_font=value(font),text_font_size=f"{size}px",text_color=color,text_align=align,text_baseline="middle",text_font_style=style,angle=angle)
def LN(xs,ys,color="#000000",w=1.0,dash=None):
    if dash: C.line(xs,ys,line_color=color,line_width=w,line_dash=dash)
    else: C.line(xs,ys,line_color=color,line_width=w)
def HEAD(x,y,ang,size=9,color="#000000"):
    a=[(size,0),(-size*.6,size*.55),(-size*.6,-size*.55)]
    ca,sa=math.cos(ang),math.sin(ang)
    C.patch([x+p*ca-q*sa for p,q in a],[y+p*sa+q*ca for p,q in a],fill_color=color,line_color=None)
def grad(x0,y0,x1,y1,colors,vertical=False):
    n=len(colors)
    if vertical:
        C.quad(left=[x0]*n,right=[x1]*n,top=[y0+(y1-y0)*i/n for i in range(n)],bottom=[y0+(y1-y0)*(i+1)/n for i in range(n)],fill_color=colors,line_color=colors,line_width=.2)
    else:
        C.quad(left=[x0+(x1-x0)*i/n for i in range(n)],right=[x0+(x1-x0)*(i+1)/n for i in range(n)],top=[y0]*n,bottom=[y1]*n,fill_color=colors,line_color=colors,line_width=.2)
def RECT(x0,y0,x1,y1,color,w=1.0):
    LN([x0,x1,x1,x0,x0],[y0,y0,y1,y1,y0],color,w)

for s,x,y in (("A",17,22),("B",505,22),("C",749,22),("D",1087,22),("E",55,407),("F",52,870),("G",815,407),("H",1335,407),("I",10,1294),("J",661,1386),("K",1113.6,1386)):
    TX(x,y,s,29,align="center",font=OS,style="bold")

# A labels
TX(348,43,"C1",23,"#2F7DBE",align="center"); TX(193,81,"C2",23,"#E8963C",align="center"); TX(148,224,"C3",23,"#27915C",align="center")
TX(27.5,177,"UMAP 2",23,"#222222",align="center",angle=math.pi/2); TX(252,364,"UMAP 1",23,"#222222",align="center")
# B/C box
RECT(402,1,1044,337,"#000000",2.5)
grad(430.7,58,440,91,PT_PAL[::-16],vertical=True)
TX(444,63,"12.5",13,"#222222"); TX(444,86,"0",13,"#222222")
TX(621,86,"Cluster 1",17,"#F0707A",align="center"); TX(498,124,"Cluster 2",17,"#1E9A4F",align="center"); TX(460.5,281,"Cluster 3",17,"#3E95D6",align="center")
TX(578.5,311,"Pseudo-time",23.5,"#23235F",align="center",font=OS)
bx,by=smooth([(975/2.178,720/3),(1020/2.178,770/3),(1100/2.178,790/3),(1180/2.178,770/3),(1260/2.178,725/3),(1330/2.178,640/3),(1360/2.178,560/3),(1340/2.178,480/3),(1300/2.178,420/3),(1258/2.178,390/3)])
LN(bx,by,"#000000",2.2); HEAD(1250/2.178,380/3,-2.35,11)
# C labels
TX(705,177,"Expression",20,"#222222",align="center",angle=math.pi/2,font=OS)
for s,x,y in (("MCM4",823,49),("SELL",977.5,49),("PCNA",823,183),("LYZ",979,184)):
    TX(x,y,s,15,"#111111",align="center")
# D
RECT(1094.5,43.7,1661,312.7,"#777777",1.3)
TX(1152,69,"Control",21,"#111111",align="center"); TX(1508,68,"Dysbiosis",21,"#111111",align="center")
TX(1071,172,"UMAP 2",21,"#111111",align="center",angle=math.pi/2); TX(1379,332,"UMAP 1",21,"#111111",align="center")
TX(1319,271,"C2",24,"#E8963C",align="center"); TX(1593.5,276,"C2",24,"#E8963C",align="center")
z2=lambda P:[(680+a/1.573,b/3) for a,b in P]
for P in ([(920,303),(940,325),(945,370),(935,450),(928,560),(945,640),(968,720),(968,790),(945,828),(900,830),(860,805),(845,760),(850,640),(848,540),(830,440),(845,360),(880,320)],
          [(1340,303),(1375,320),(1382,400),(1370,500),(1365,620),(1385,700),(1408,760),(1400,810),(1360,830),(1320,825),(1285,790),(1282,680),(1290,590),(1280,510),(1272,430),(1290,350)]):
    a,b=smooth(z2(P),True); LN(a,b,"#E8963C",1.5,"2 1")
a,b=smooth(z2([(925,455),(1030,400),(1140,380),(1230,405),(1295,440)])); LN(a,b,"#888888",1.4)
HEAD(680+1303/1.573,450/3,.6,7)
# E
TX(387,455,"Gated on live CD45⁺ CD3ε⁻CD20⁻ cells",26.5,"#111111",align="center",font=OS)
for s,x,y in (("200K",52,520.7),("100K",52,570),("0",63,623),("200K",52,680),("100K",52,730),("0",63,784),("10⁴",247,530),("10²",247,576),("0",249,612.7),("10⁴",247,674),("10²",247,719),("0",250,756),("100",607,496.7),("0",613,626),("100",607,652),("0",613,780),("0",119.4,797),("10²",150,797),("10⁴",181,797)):
    TX(x,y,s,15,"#222222",align="center")
for s,x,y in (("MHC II",138.5,820.7),("CD11B",331,800),("CD206",513,800),("CD86",685,800)):
    TX(x,y,s,15,"#222222",align="center")
for s,x,y in (("Forward scatter",15,645),("CD11C",226.7,650),("CD103",424,648),("Frequency",599.5,573)):
    TX(x,y,s,15.5,"#222222",align="center",angle=math.pi/2,font=OS)
TX(782,553,"Control",23,"#1B75BC",align="center",angle=-math.pi/2,font=OS); TX(782,707,"Dysbiosis",23,"#D7262C",align="center",angle=-math.pi/2,font=OS)
TX(676.6,513,"M1",15,"#C8202F",align="center"); TX(729,514,"52%",15,"#222222",align="center"); TX(726.5,681,"74%",15,"#222222",align="center")
TX(543,743,"Alveolar",15,"#F08080",align="center"); TX(543,763,"macs",15,"#F08080",align="center")
z3=lambda a,b:(a/1.985,390+b/3)
def L3(P,c,w=1.0):
    q=[z3(*k) for k in P]; LN([k[0] for k in q],[k[1] for k in q],c,w)
L3([(248,700),(262,520),(320,312)],"#555555"); L3([(250,1170),(265,965),(325,785)],"#555555")
L3([(627,340),(790,340),(790,568),(627,568),(627,340)],"#333333",1.2); L3([(619,790),(784,790),(784,1017),(619,1017),(619,790)],"#333333",1.2)
L3([(1025,313),(1140,313),(1140,572),(1025,572),(1025,313)],"#F08080",1.2); L3([(1020,783),(1135,783),(1135,1033),(1020,1033),(1020,783)],"#F08080",1.2)
L3([(1085,313),(1085,282),(1375,282),(1375,305)],"#F08080"); L3([(1080,783),(1080,763),(1368,763),(1368,790)],"#F08080")
HEAD(*z3(1375,310),math.pi/2,4,"#F08080"); HEAD(*z3(1368,795),math.pi/2,4,"#F08080")
L3([(1310,320),(1455,320)],"#444444",2); L3([(1307,827),(1450,827)],"#444444",2)
for a,b,y in ((427,445,510),(793,825,503),(413,445,948),(785,815,948)):
    L3([(a,y),(b,y)],"#333333"); HEAD(*z3(b,y),0,7)
for y0,y1 in ((493,627),(649,783)):
    for x0,x1 in ((75.6,209),(264.5,399),(442,577),(625,758)):
        C.multi_line([[x0+(x1-x0)*i/24]*2 for i in range(25)],[[y1,y1+(3 if i%4==0 else 1.5)] for i in range(25)],line_color="#555555",line_width=.7)
        LN([x0,x1],[y0,y0],"#999999",1.8)
# F
RECT(80.7,865.7,764,1260.7,"#111111",2)
TX(305.6,899,"Severe ARDS/death",23.5,"#E97E3C",align="center",font=OS); TX(608.7,899,"Extubation/survival",23.5,"#5B3A94",align="center",font=OS)
grad(155,964,202,977,grey_orange[::8])
TX(163,993,"0",14,"#111111",align="center"); TX(202,993,"2",14,"#111111",align="center")
TX(225,1010,"Expression",14,"#111111",align="right"); TX(225,1030,"score",14,"#111111",align="right")
TX(113,1070,"UMAP 2",20,"#111111",align="center",angle=math.pi/2,font=OS); TX(409,1232,"UMAP 1",20,"#111111",align="center",font=OS)
TX(319.4,1187,"Cluster 2",24,"#1FA35A",align="center",font=OS,style="bold"); TX(663.8,1174,"Cluster 1",24,"#F08080",align="center",font=OS,style="bold")
z4=lambda P:[(60+a/2.178,850+b/3) for a,b in P]
a,b=smooth(z4([(520,408),(570,425),(578,480),(578,600),(590,680),(640,730),(675,780),(685,840),(660,895),(600,930),(510,960),(440,940),(405,890),(410,830),(430,770),(410,700),(395,640),(388,560),(400,480),(440,425)]),True); LN(a,b,"#1FA35A",2)
a,b=smooth(z4([(1275,320),(1320,335),(1340,400),(1335,510),(1385,580),(1425,660),(1440,730),(1420,810),(1375,900),(1340,918),(1320,880),(1300,810),(1240,780),(1220,710),(1215,620),(1225,500),(1225,420),(1250,340)]),True); LN(a,b,"#F08080",2)

# dendrograms
class Tree:
    def __init__(s,conv,xl,ms):
        s.conv,s.xl,s.ms=conv,xl,ms; s.xs=[];s.ys=[];s.i=0
    def seg(s,x0,y0,x1,y1):
        a=s.conv(x0,y0);b=s.conv(x1,y1); s.xs.append([a[0],b[0]]); s.ys.append([a[1],b[1]])
    def build(s,n):
        if n[0]=="L":
            _,x,y0,y1=n
            if y1-y0<=s.ms: return (s.xl,(y0+y1)/2)
            s.i+=1; r=[.5,.36,.6,.44,.3,.55][s.i%6]; st=[.38,.5,.3,.45][s.i%4]
            ym=y0+(y1-y0)*r; nx=x+(s.xl-x)*st
            n=("N",x,("L",nx,y0,ym),("L",x+(s.xl-x)*(st+.1),ym,y1))
        _,x,a,b=n
        xa,ya=s.build(a); xb,yb=s.build(b)
        s.seg(x,ya,x,yb); s.seg(x,ya,xa,ya); s.seg(x,yb,xb,yb)
        return (x,(ya+yb)/2)
    def draw(s,root,w=.9,c="#555555"):
        s.build(root); C.multi_line(s.xs,s.ys,line_color=c,line_width=w)
N=lambda x,a,b:("N",x,a,b)
L=lambda x,a,b:("L",x,a,b)
z5=lambda x,y:(800+x/2.8,390+y/3)
Tree(z5,290,9).draw(N(25,N(72,N(168,L(218,375,480),L(203,480,640)),N(130,L(220,640,675),N(130,L(195,675,818),N(172,L(215,818,880),L(220,880,1072))))),
  N(72,N(183,L(225,1072,1230),L(220,1230,1345)),N(120,N(190,L(225,1345,1600),L(207,1600,1838)),N(143,L(207,1838,1965),N(178,L(235,1965,2110),L(220,2110,2358)))))))
for P in ([(343,372),(343,310),(481,310),(481,372)],[(617,372),(617,282),(755,282),(755,372)],[(413,310),(413,195),(687,195),(687,282)]):
    q=[z5(*k) for k in P]; LN([k[0] for k in q],[k[1] for k in q],"#555555",1)
z8=lambda x,y:(x/2.45,1270+y/3)
Tree(z8,330,9).draw(N(117,N(160,L(250,292,318),N(160,N(205,L(250,318,420),N(225,L(255,420,540),N(240,L(250,540,640),L(250,640,830)))),N(190,N(222,L(265,830,920),L(255,920,1040)),N(195,L(240,1040,1130),N(235,L(255,1130,1260),L(240,1260,1395)))))),
  N(148,N(188,L(228,1395,1520),N(232,L(255,1520,1640),L(260,1640,1760))),N(172,N(207,L(245,1760,1830),L(245,1830,1920)),N(192,N(245,L(265,1920,1970),L(268,1970,2040)),N(210,L(252,2040,2250),L(232,2250,2490)))))))
for P in ([(412,222),(412,150),(538,150),(538,222)],[(662,222),(662,185),(788,185),(788,222)],[(475,150),(475,72),(725,72),(725,185)]):
    q=[z8(*k) for k in P]; LN([k[0] for k in q],[k[1] for k in q],"#333333",1.2)
z7=lambda x,y:(1340+x/3,480+y/2.178)
Tree(z7,275,8).draw(N(97,N(113,N(190,L(235,195,415),L(232,415,527)),N(175,L(230,527,695),N(215,L(255,695,823),L(240,823,1015)))),
  N(97,N(160,L(240,1015,1027),L(240,1027,1055)),N(148,L(215,1055,1217),N(205,L(250,1217,1322),L(235,1322,1492))))),w=.8)
for P in ([(503,157),(503,70),(643,70),(643,157)],[(362,157),(362,64),(575,64),(575,70)]):
    q=[z7(*k) for k in P]; LN([k[0] for k in q],[k[1] for k in q],"#555555",1)

def labels(conv,items,color,size=16,font=LS):
    for s,x,y in items:
        a,b=conv(x,y); TX(a,b,s,size,color,font=font)
def lines(conv,paths,color="#333333",w=1.0):
    for P in paths:
        q=[conv(*k) for k in P]; LN([k[0] for k in q],[k[1] for k in q],color,w)
def brack(conv,xa,xb,ya,yb,xm,color="#333333"):
    lines(conv,[[(xa,ya),(xb,ya),(xb,yb),(xa,yb)],[(xb,(ya+yb)/2),(xm,(ya+yb)/2)]],color,1.1)

# G labels
lg,og,gg,gd="#A8D08D","#C8622A","#1FA35A","#5E9137"
labels(z5,[("MAMU-DRB1",860,430),("MAMU-DRA",860,485),("GO: Antigen",1163,428),("presentation",1163,484)],lg)
lines(z5,[[(822,420),(860,420)],[(822,462),(860,462)]]); brack(z5,1125,1143,400,498,1160)
labels(z5,[("LYZ",865,663),("CTSS",865,718),("LGALS3",865,775),("AGER",870,895),("HGF",870,952),("GO: Secretory",1098,738),("vesicle",1098,795)],og)
lines(z5,[[(822,645),(860,645)],[(822,712),(860,712)],[(822,765),(860,765)],[(822,887),(860,887)],[(828,958),(862,958)]]); brack(z5,1035,1062,652,893,1090)
labels(z5,[("ACOD1",865,1197),("KLF4",865,1255),("TNFRSF21",865,1308),("GO: Vascular",1135,1217),("inflammation",1135,1275)],gg)
lines(z5,[[(822,1230),(860,1208)],[(822,1258),(860,1258)],[(822,1288),(860,1288)]]); brack(z5,1100,1122,1172,1323,1140)
o=1230
labels(z5,[("CXCL8",860,o+612),("CD36",860,o+668),("TNFAIP3",862,o+725),("GO: LPS",1122,o+640),("response",1122,o+697)],og)
lines(z5,[[(822,o+622),(858,o+622)],[(822,o+653),(858,o+653)],[(822,o+697),(858,o+697)]]); brack(z5,1032,1080,o+592,o+743,1122)
labels(z5,[("CALU",870,o+782),("CANX",1018,o+805),("CALR",870,o+838),("PDIA4",1020,o+872),("GO: Chaperone",1218,o+817),("protein",1218,o+873)],gd)
lines(z5,[[(822,o+768),(860,o+768)],[(822,o+805),(1012,o+805)],[(822,o+860),(870,o+840)],[(822,o+878),(1010,o+878)]]); brack(z5,1143,1175,o+752,o+912,1205)
labels(z5,[("VIM",860,o+945),("MYD88",860,o+1002),("CXCL8",860,o+1058),("TNF",860,o+1113),("GO: Cell",1097,o+1020),("migration",1097,o+1077)],og)
lines(z5,[[(822,o+925),(860,o+925)],[(822,o+988),(860,o+988)],[(822,o+1047),(860,o+1047)],[(822,o+1085),(858,o+1085)]]); brack(z5,1022,1055,o+925,o+1110,1085)
TX(850,461,"Log₂FC",14,og,align="center")
grad(823,472,878,483,LOG2FC_COLORS)
for s,x in (("−2",825),("0",851),("2",869)): TX(x,492.7,s,13,og,align="center")
C.quad(left=[903.6,1000],right=[997,1093.6],top=[1182,1182],bottom=[1207,1207],fill_color=["#1A6FB5","#E4272C"],line_color=None)
TX(949,1196,"Control",18,"#111111",align="center"); TX(1047,1195,"Dysbiosis",18,"#111111",align="center")

# H labels
blue,teal,sal="#2FA8DC","#0B8A55","#F08080"
labels(z7,[("RUNX3",742,220),("CTCF",745,358),("TCF3",740,1175),("CEBPD",738,1280)],blue,16)
labels(z7,[("POLR2A",742,568),("KDM5A",750,648),("NFIL3",742,710),("ARNTL",742,836),("RXRA",745,955)],teal,16)
labels(z7,[("FLI1",742,1018),("POU2F2",785,1062),("PPARG",742,1130),("HIF1A",748,1237),("KLF1",748,1325),("CEBPA",745,1377),("USF1",738,1447),("SPI1",738,1483)],sal,16)
lines(z7,[[(703,k),(733,k)] for k in (220,360,568,652,708,840,948,1020,1128,1177,1237,1280,1326,1383,1447,1485)],"#666666")
lines(z7,[[(705,1025),(720,1025),(720,1060),(778,1060)]],"#666666")
C.quad(left=[1432.3,1478.7,1525.3],right=[1478.7,1525.3,1573],top=[552]*3,bottom=[567]*3,fill_color=["#F7941E","#1F78C1","#0B8A4B"],line_color=None)
for s,x in (("C3",1460),("C1",1506),("C2",1552)): TX(x,559.5,s,15,"#111111",align="center")
grad(1356.7,507.5,1449.3,524.5,Viridis256[::4])
TX(1401.7,499.7,"Regulon activity",11.5,"#222222",align="center",style="bold")
for s,x in (("−2",1363),("0",1395),("2",1423)): TX(x,535,s,12,"#222222",align="center")

# I labels
ior,ire,ibl,ipu="#C8622A","#C8202F","#1B75BC","#6A2C91"
labels(z8,[("SOX4",860,328),("GADD45A",860,385),("PLK3",860,443),("GO: DNA damage",1145,358),("GO: Cell cycle arrest",1145,416)],ior)
brack(z8,1068,1092,313,455,1118)
labels(z8,[("TXNIP",860,617),("TNFRS10A",860,675),("STK17A",860,733),("RGCC",860,791),("GO: Apoptosis",1143,706),("GO: T cell exhaustion",1143,764)],ire)
brack(z8,1070,1092,590,832,1118)
labels(z8,[("PI3KCD",865,988),("DDX3X",865,1046),("CASP3",865,1104),("CTLA4",865,1161),("PMAIP1",865,1219),("MYLIP",865,1275),("GO: Metabolic process",1113,1125)],"#111111")
brack(z8,1040,1058,985,1278,1082)
labels(z8,[("CD36",862,o+173),("THY1",862,o+232),("IGF2",862,o+290),("FN1",862,o+347),("GO: Cell migration",1040,o+264),("GO: Cell adhesion",1040,o+322)],"#111111")
lines(z8,[[(985,o+165),(995,o+168)],[(995,o+262),(1015,o+262)],[(975,o+358),(995,o+355)]])
labels(z8,[("CD40",862,o+486),("CD27",862,o+544),("CD40",862,o+600),("GO: T cell costimulation",1035,o+545)],ibl)
brack(z8,975,995,o+458,o+620,1015)
labels(z8,[("COL1A1",865,o+702),("CLDN5",865,o+758),("ID2",865,o+812),("GO: TGFβ1 signaling",1070,o+714)],"#111111")
brack(z8,1015,1038,o+680,o+825,1058)
labels(z8,[("RORC",862,o+915),("THY1",862,o+973),("CCR6",862,o+1031),("CCR7",862,o+1089),("CCN2",862,o+1147),("CSTA",862,o+1207),("GO: T cell maturation",1065,o+1040)],ipu)
brack(z8,990,1012,o+907,o+1205,1035)
TX(64.5,1292,"Log₂FC",14,"#111111",align="center")
grad(38.8,1306,51,1341.7,LOG2FC_COLORS[::-1],vertical=True)
TX(64.5,1311.7,"2",15,"#111111",align="center"); TX(63,1326.7,"0",15,"#111111",align="center"); TX(61,1339,"−2",15,"#111111",align="center")
C.quad(left=[140,248],right=[244,347.8],top=[1345,1345],bottom=[1363,1363],fill_color=["#4472B8","#B01E26"],line_color=None)
TX(192,1354,"Control",16,"#111111",align="center"); TX(297,1354,"Dysbiosis",16,"#111111",align="center")

# rules and boxes
LN([0,1381],[1271,1271],"#222222",2)
RECT(1381,1216.5,1675,1271,"#000000",2.2); RECT(1381,1272,1675,1326.6,"#000000",2.2)
TX(1405,1242,"Alveolar macrophages",21,"#111111",font=OS); TX(1405,1297.6,"T helper cells",21,"#111111",font=OS)

# J / K texts
W={"R":.722,"P":.667," ":.278,"=":.584,",":.278,".":.278}
def wid(s,size): return sum(W.get(c,.556) for c in s)*size
def rp(x,y,r,pv,size):
    sp=.278*size
    for s,st in (("R","italic"),(f"= {r},","normal"),("P","italic"),(f"= {pv}","normal")):
        C.text([x],[y],text=[s],text_font=value(LS),text_font_size=f"{size}px",text_color="#444444",text_baseline="middle",text_font_style=st)
        x+=wid(s,size)+sp
rp(731.7,1485,"0.96","0.00016",19.7)
TX(655,1593,"Peak PEWS",20,"#111111",align="center",angle=math.pi/2,font=OS)
TX(868,1817,"Frequency of dysfunctional CD4⁺T cells",21,"#111111",align="center",font=OS)
TX(863,1843,"in the lungs (% of all CD4⁺ T cells)",21,"#111111",align="center",font=OS)
rp(1194,1498,"0.66","0.075",16.5); rp(1448.8,1479,"0.95","0.00081",16.5); rp(1199.7,1705,"0.83","0.01",16.5); rp(1449.5,1715,"0.55","0.16",16.5)
for s,x,y in (("IL-6",1200.5,1446),("IL-17",1457,1446),("CXCL8",1200.5,1655),("CXCL10",1446,1655)):
    TX(x,y,s,22,"#C8202F")
TX(1109.5,1616,"Frequency of dysfunctional CD4⁺T cells",21,"#111111",align="center",angle=math.pi/2,font=OS)
TX(1137,1616,"in the lungs (% of all CD4⁺ T cells)",21,"#111111",align="center",angle=math.pi/2,font=OS)
TX(1408,1860,"pg/ml",18,"#222222",align="center",font=OS)

open("out.html","w").write(file_html(figs,INLINE))
